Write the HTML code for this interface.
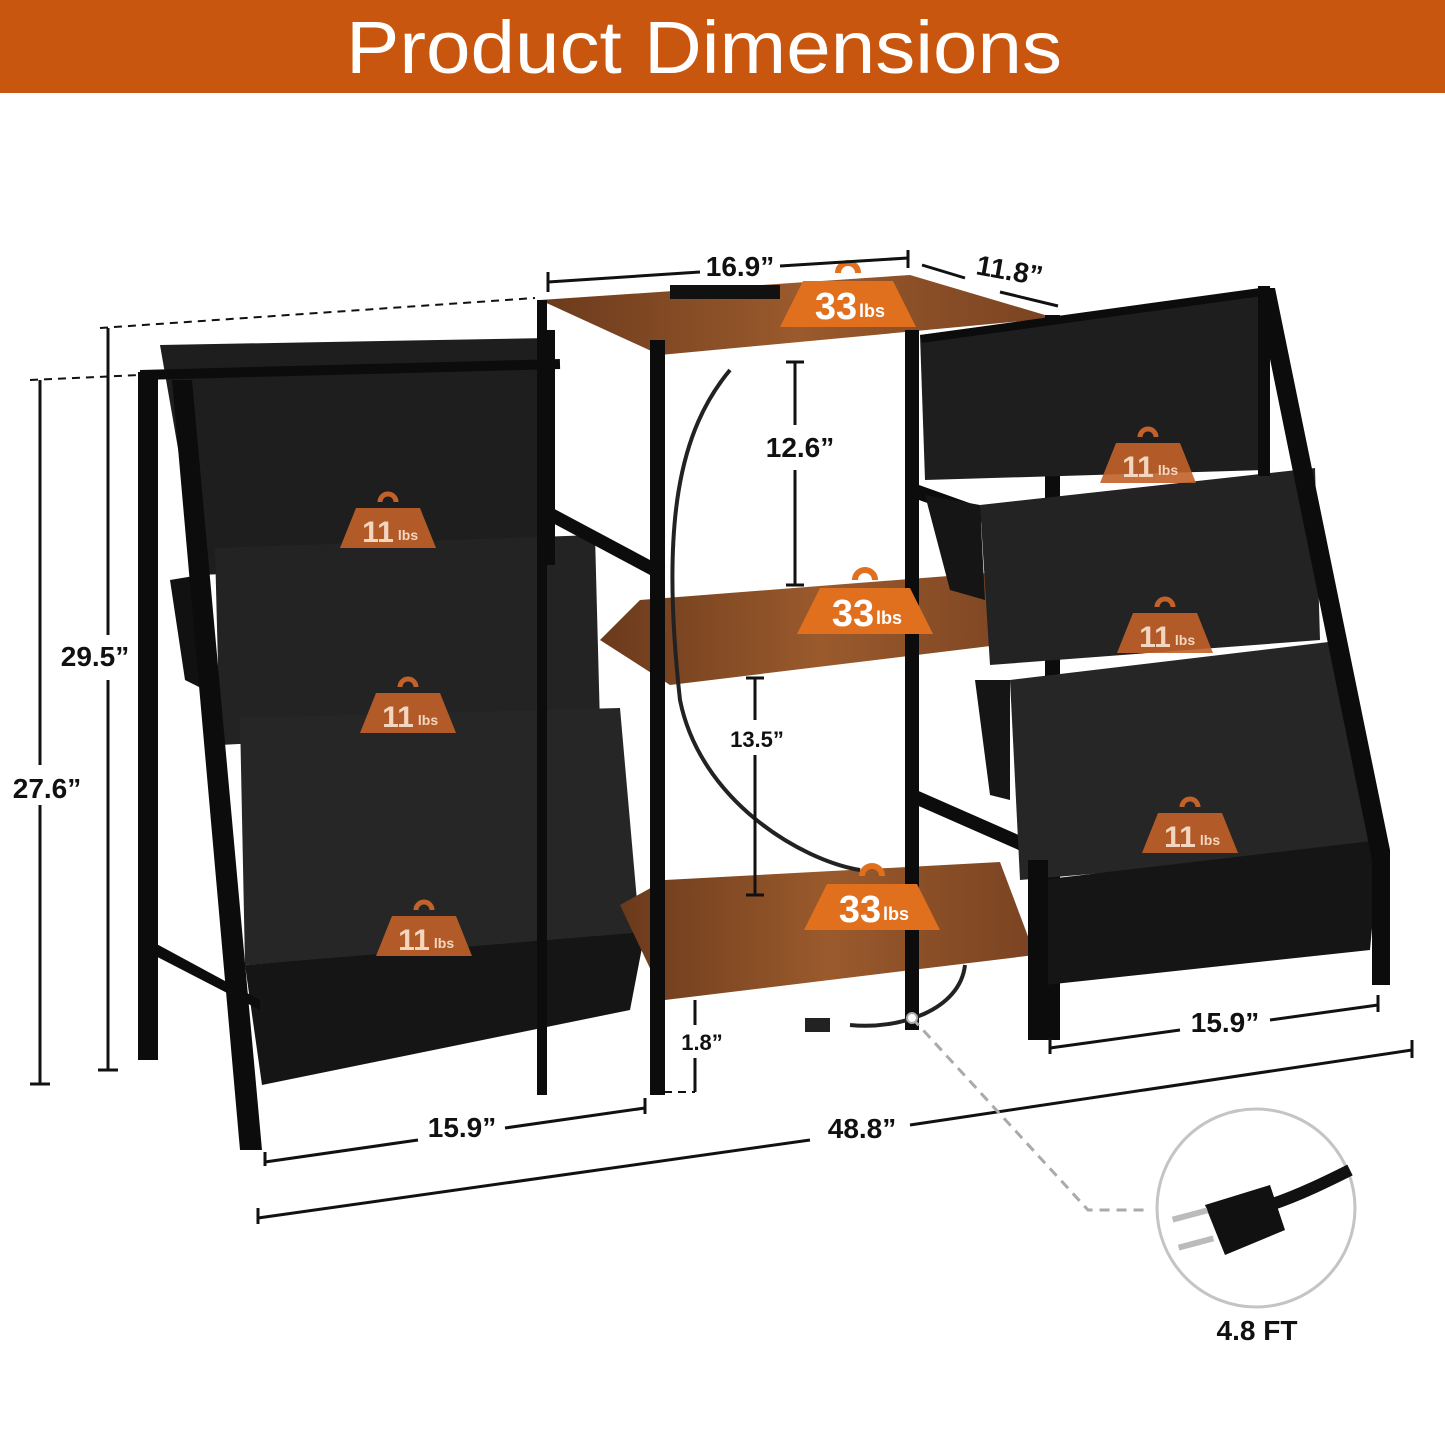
<!DOCTYPE html>
<html><head><meta charset="utf-8"><style>
html,body{margin:0;padding:0;background:#fff}
svg{display:block}
text{font-family:"Liberation Sans",sans-serif;font-weight:bold}
text.hdr{font-weight:normal}
</style></head><body>
<svg width="1445" height="1445" viewBox="0 0 1445 1445" xmlns="http://www.w3.org/2000/svg">
<defs>
<linearGradient id="wood" x1="0" y1="0" x2="1" y2="0">
<stop offset="0" stop-color="#6b3a1c"/><stop offset="0.5" stop-color="#9a5a2c"/><stop offset="1" stop-color="#7a4322"/>
</linearGradient>
<g id="w33">
<path d="M-10,-32 a10,10 0 0 1 20,0" fill="none" stroke="#e0701e" stroke-width="6"/>
<path d="M-45,-24 L45,-24 L68,22 L-68,22 Z" fill="#e0701e"/>
<text x="-12" y="14" font-size="38" fill="#fff" text-anchor="middle">33</text>
<text x="24" y="12" font-size="18" fill="#fff" text-anchor="middle">lbs</text>
</g>
<g id="w11">
<path d="M-8,-28 a8,8 0 0 1 16,0" fill="none" stroke="#c2622a" stroke-width="5"/>
<path d="M-32,-22 L32,-22 L48,18 L-48,18 Z" fill="#c2622a" opacity="0.9"/>
<text x="-10" y="12" font-size="30" fill="#f3d6c0" text-anchor="middle">11</text>
<text x="20" y="10" font-size="14" fill="#f3d6c0" text-anchor="middle">lbs</text>
</g>
</defs>
<rect width="1445" height="1445" fill="#fff"/>
<rect width="1445" height="93" fill="#c9560f"/>
<text class="hdr" x="704" y="73" font-size="74" fill="#fff" text-anchor="middle" textLength="716" lengthAdjust="spacingAndGlyphs">Product Dimensions</text>

<g stroke="#111" stroke-width="2" stroke-dasharray="8,6" fill="none">
<line x1="100" y1="328" x2="535" y2="298"/>
<line x1="30" y1="380" x2="140" y2="375"/>
<line x1="650" y1="1092" x2="695" y2="1092"/>
</g>

<g>
<polygon points="160,345 550,338 550,560 200,575" fill="#1e1e1e"/>
<polygon points="215,548 595,535 600,725 220,745" fill="#232323"/>
<polygon points="240,718 620,708 640,935 245,965" fill="#262626"/>
<polygon points="245,965 645,932 630,1010 262,1085" fill="#151515"/>
<polygon points="170,580 200,575 205,690 185,680" fill="#111"/>
<g fill="#0c0c0c">
<rect x="138" y="372" width="20" height="688"/>
<polygon points="172,380 192,380 262,1150 240,1150"/>
<polygon points="140,935 260,1000 260,1010 140,948"/>
<rect x="140" y="370" width="420" height="10" transform="rotate(-1.5 140 370)"/>
<rect x="545" y="330" width="10" height="235"/>
</g>
<use href="#w11" x="388" y="530"/>
<use href="#w11" x="408" y="715"/>
<use href="#w11" x="424" y="938"/>
</g>

<g>
<polygon points="600,640 640,600 1000,572 1040,640 670,685" fill="url(#wood)"/>
<polygon points="620,905 665,880 1000,862 1035,955 665,1000" fill="url(#wood)"/>
<polygon points="540,300 910,275 1055,318 660,355" fill="url(#wood)"/>
<rect x="670" y="285" width="110" height="14" fill="#111"/>
<g fill="#0c0c0c">
<rect x="537" y="300" width="10" height="795"/>
<rect x="650" y="340" width="15" height="755"/>
<rect x="905" y="330" width="14" height="700"/>
<rect x="1045" y="315" width="15" height="725"/>
<polygon points="547,505 650,560 650,575 547,520"/>
<polygon points="905,480 1045,530 1045,545 905,495"/>
<polygon points="905,785 1030,840 1030,855 905,800"/>
</g>
<path d="M730,370 C680,430 660,520 680,700 C700,800 800,860 860,870" fill="none" stroke="#222" stroke-width="4"/>
<path d="M965,965 C960,1010 900,1030 850,1025" fill="none" stroke="#222" stroke-width="4"/>
<rect x="805" y="1018" width="25" height="14" fill="#222"/>
<use href="#w33" x="848" y="305"/>
<use href="#w33" x="865" y="612"/>
<use href="#w33" x="872" y="908"/>
</g>

<g>
<polygon points="920,335 1260,290 1265,470 925,480" fill="#1e1e1e"/>
<polygon points="980,505 1315,468 1320,640 990,665" fill="#232323"/>
<polygon points="1010,680 1345,640 1375,850 1020,880" fill="#262626"/>
<polygon points="1040,880 1380,840 1370,950 1045,985" fill="#151515"/>
<polygon points="925,495 980,505 985,600 950,590" fill="#151515"/>
<polygon points="975,680 1010,680 1010,800 990,795" fill="#151515"/>
<g fill="#0c0c0c">
<polygon points="1258,288 1275,288 1390,850 1390,985 1372,985 1372,860 1258,300"/>
<rect x="1258" y="286" width="12" height="190"/>
<rect x="1028" y="860" width="20" height="180"/>
<polygon points="920,335 1260,288 1262,296 922,343"/>
</g>
<use href="#w11" x="1148" y="465"/>
<use href="#w11" x="1165" y="635"/>
<use href="#w11" x="1190" y="835"/>
</g>

<g stroke="#111" stroke-width="3" fill="none">
<line x1="548" y1="282" x2="700" y2="272"/><line x1="780" y1="266" x2="908" y2="258"/>
<line x1="548" y1="272" x2="548" y2="292"/><line x1="908" y1="250" x2="908" y2="268"/>
<line x1="922" y1="265" x2="965" y2="278"/><line x1="1000" y1="292" x2="1058" y2="306"/>
<line x1="795" y1="362" x2="795" y2="425"/><line x1="795" y1="470" x2="795" y2="585"/>
<line x1="786" y1="362" x2="804" y2="362"/><line x1="786" y1="585" x2="804" y2="585"/>
<line x1="755" y1="678" x2="755" y2="720"/><line x1="755" y1="755" x2="755" y2="895"/>
<line x1="746" y1="678" x2="764" y2="678"/><line x1="746" y1="895" x2="764" y2="895"/>
<line x1="695" y1="1000" x2="695" y2="1025"/><line x1="695" y1="1058" x2="695" y2="1092"/>
<line x1="108" y1="328" x2="108" y2="635"/><line x1="108" y1="680" x2="108" y2="1070"/>
<line x1="98" y1="1070" x2="118" y2="1070"/>
<line x1="40" y1="380" x2="40" y2="765"/><line x1="40" y1="805" x2="40" y2="1084"/>
<line x1="30" y1="1084" x2="50" y2="1084"/>
<line x1="265" y1="1162" x2="418" y2="1140"/><line x1="505" y1="1128" x2="645" y2="1108"/>
<line x1="265" y1="1152" x2="265" y2="1166"/><line x1="645" y1="1098" x2="645" y2="1114"/>
<line x1="1050" y1="1048" x2="1180" y2="1030"/><line x1="1270" y1="1020" x2="1378" y2="1005"/>
<line x1="1050" y1="1038" x2="1050" y2="1054"/><line x1="1378" y1="995" x2="1378" y2="1012"/>
<line x1="258" y1="1218" x2="810" y2="1140"/><line x1="910" y1="1125" x2="1412" y2="1050"/>
<line x1="258" y1="1208" x2="258" y2="1224"/><line x1="1412" y1="1040" x2="1412" y2="1058"/>
</g>
<g fill="#111" text-anchor="middle">
<text x="740" y="276" font-size="28">16.9”</text>
<text x="1008" y="280" font-size="28" transform="rotate(10 1008 280)">11.8”</text>
<text x="800" y="457" font-size="28">12.6”</text>
<text x="757" y="747" font-size="22">13.5”</text>
<text x="702" y="1050" font-size="22">1.8”</text>
<text x="95" y="666" font-size="28">29.5”</text>
<text x="47" y="798" font-size="28">27.6”</text>
<text x="462" y="1137" font-size="28">15.9”</text>
<text x="1225" y="1032" font-size="28">15.9”</text>
<text x="862" y="1138" font-size="28">48.8”</text>
<text x="1257" y="1340" font-size="28">4.8 FT</text>
</g>

<path d="M912,1018 L1088,1210 L1150,1210" fill="none" stroke="#aaa" stroke-width="3" stroke-dasharray="10,7"/>
<circle cx="912" cy="1018" r="5" fill="#fff" stroke="#aaa" stroke-width="2"/>
<circle cx="1256" cy="1208" r="99" fill="#fff" stroke="#c4c4c4" stroke-width="3"/>
<path d="M1270,1205 C1300,1195 1330,1180 1350,1170" stroke="#111" stroke-width="12" fill="none"/>
<polygon points="1205,1205 1270,1185 1285,1230 1225,1255" fill="#111"/>
<rect x="1172" y="1212" width="36" height="6" fill="#bbb" transform="rotate(-15 1190 1215)"/>
<rect x="1178" y="1240" width="36" height="6" fill="#bbb" transform="rotate(-15 1196 1243)"/>
</svg>
</body></html>
